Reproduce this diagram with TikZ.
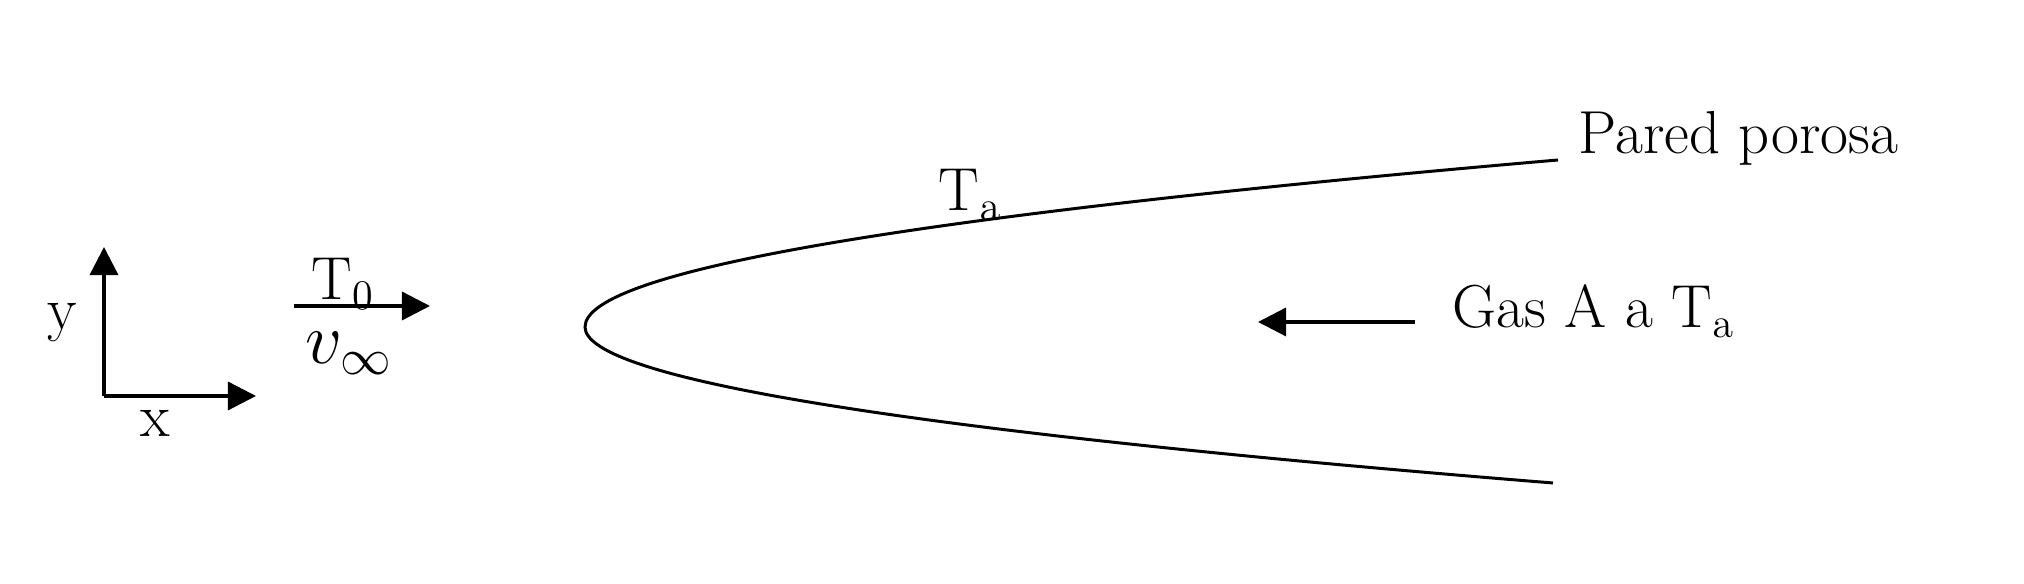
\documentclass[tikz,border=0pt]{standalone}
\usetikzlibrary{arrows.meta}
\tikzstyle{txt} = [font=\LARGE, inner sep=0pt]
\tikzstyle{arrow} = [line width=0.95pt, -{Triangle[length=8pt,width=8pt]}]
\tikzstyle{wall} = [line width=0.85pt]
\begin{document}
\begin{tikzpicture}
		\useasboundingbox (0,0) rectangle (20.24,5.84);
		% ejes
		\coordinate (o) at (1.04,1.88);
		\coordinate (ytip) at (1.04,3.37);
		\coordinate (xtip) at (2.56,1.88);
		\draw [arrow] (o) -- (ytip);
		\draw [arrow] (o) -- (xtip);
		\node (ylab) [txt, anchor=base] at (0.62,2.54) {y};
		\node (xlab) [txt, anchor=base] at (1.55,1.47) {x};
		% flujo libre
		\coordinate (in0) at (2.94,2.78);
		\coordinate (in1) at (4.30,2.78);
		\draw [arrow] (in0) -- (in1);
		\node (t0) [txt, anchor=base] at (3.43,2.84) {T$_0$};
		\node (vinf) [txt, font=\huge, anchor=base] at (3.49,2.20) {$v_\infty$};
		% pared porosa
		\coordinate (top) at (15.58,4.24);
		\coordinate (nose) at (5.85,2.57);
		\coordinate (bot) at (15.53,1.01);
		\draw [wall] (top) .. controls (9.09,3.68) and (5.85,3.13) .. (nose)
			.. controls (5.85,2.05) and (9.08,1.53) .. (bot);
		\node (ta) [txt, anchor=base west] at (9.38,3.73) {T$_\mathrm{a}$};
		\node (pared) [txt, anchor=base west] at (15.78,4.30) {Pared porosa};
		% gas inyectado
		\coordinate (g0) at (14.15,2.62);
		\coordinate (g1) at (12.58,2.62);
		\draw [arrow] (g0) -- (g1);
		\node (gas) [txt, anchor=base west] at (14.52,2.56) {Gas A a T$_\mathrm{a}$};
	\end{tikzpicture}
\end{document}
